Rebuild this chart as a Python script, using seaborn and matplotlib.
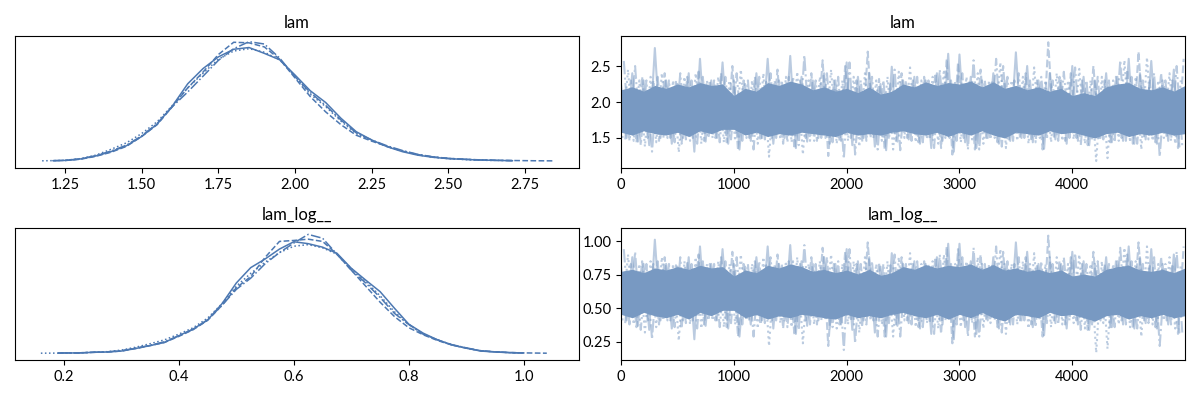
import numpy as np
import matplotlib
matplotlib.use("Agg")
import matplotlib.pyplot as plt
import seaborn as sns

nan = float("nan")

titles = ["lam", "lam_log__"]
chain_styles = ["-", "--", ":", "-."]
chain_offsets = [0, 37, 12, 25]

# posterior density of lam
lam_grid = [1.175, 1.21, 1.25, 1.30, 1.35, 1.40, 1.45, 1.50, 1.55, 1.60, 1.65, 1.70, 1.75, 1.80, 1.85, 1.90, 1.95,
            2.00, 2.05, 2.10, 2.15, 2.20, 2.25, 2.30, 2.35, 2.40, 2.45, 2.50, 2.55, 2.60, 2.65, 2.71, 2.78, 2.845]
lam_kde_0 = [nan, .005, .01, .035, .085, .16, .26, .42, .63, .94, 1.32, 1.58, 1.78, 1.91, 1.94, 1.84, 1.73,
             1.47, 1.20, 1.00, .73, .50, .36, .245, .16, .10, .063, .04, .028, .017, .011, .005, nan, nan]
lam_kde_1 = [nan, nan, .008, .03, .08, .15, .25, .42, .62, .93, 1.25, 1.52, 1.82, 2.03, 2.02, 1.95, 1.74,
             1.42, 1.10, .84, .62, .44, .34, .25, .17, .11, .07, .045, .03, .02, .012, .008, .004, .002]
lam_kde_2 = [.003, .006, .012, .04, .1, .2, .31, .47, .67, .95, 1.25, 1.5, 1.74, 1.88, 1.92, 1.86, 1.73,
             1.45, 1.14, .93, .68, .47, .35, .25, .17, .105, .065, .04, .025, .015, .008, nan, nan, nan]
lam_kde_3 = [nan, .005, .01, .035, .09, .17, .27, .43, .64, .93, 1.18, 1.45, 1.72, 1.92, 2.04, 2.0, 1.76,
             1.44, 1.17, .95, .7, .48, .36, .26, .18, .115, .07, .045, .03, .018, .011, .005, nan, nan]

# same for the log transformed variable
log_grid = [.16, .19, .2, .225, .25, .275, .3, .325, .35, .375, .4, .425, .45, .475, .5, .525, .55, .575,
            .6, .625, .65, .675, .7, .725, .75, .775, .8, .825, .85, .875, .9, .925, .95, .975, 1.0, 1.04]
log_kde_0 = [nan, .005, .01, .01, .03, .04, .07, .15, .24, .34, .55, .76, 1.04, 1.55, 2.2, 2.68, 2.95, 3.26,
             3.49, 3.43, 3.32, 3.13, 2.66, 2.29, 1.93, 1.41, .91, .63, .42, .26, .16, .07, .04, .02, .01, nan]
log_kde_1 = [nan, .005, .01, .01, .03, .04, .07, .15, .24, .34, .53, .74, 1.03, 1.5, 2.05, 2.4, 3.0, 3.5,
             3.53, 3.57, 3.5, 3.1, 2.6, 2.1, 1.6, 1.15, .8, .58, .4, .26, .16, .08, .045, .025, .012, .003]
log_kde_2 = [.003, .006, .01, .015, .03, .05, .1, .19, .3, .42, .6, .8, 1.1, 1.55, 2.1, 2.5, 2.85, 3.15,
             3.35, 3.4, 3.3, 3.1, 2.65, 2.25, 1.8, 1.3, .9, .6, .42, .26, .16, .08, .045, .02, .01, nan]
log_kde_3 = [nan, .004, .01, .012, .03, .045, .08, .16, .25, .36, .55, .75, 1.05, 1.5, 2.0, 2.35, 2.8, 3.15,
             3.45, 3.72, 3.6, 3.1, 2.6, 2.2, 1.75, 1.25, .9, .6, .42, .27, .17, .08, .045, .022, .01, nan]

# trace extremes, one value every 50 draws per chain
lam_trace_0 = [2.25, 1.5, 2.4, 1.45, 2.3, 1.4, 2.75, 1.5, 2.3, 1.42, 2.25, 1.5, 2.4, 1.31, 2.6, 1.45, 2.3, 1.5, 2.55, 1.42,
               2.3, 1.34, 2.25, 1.46, 2.4, 1.5, 2.6, 1.42, 2.3, 1.5, 2.64, 1.36, 2.35, 1.45, 2.3, 1.5, 2.4, 1.42, 2.3, 1.46,
               2.55, 1.4, 2.35, 1.5, 2.4, 1.38, 2.25, 1.33, 2.49, 1.45, 2.3, 1.48, 2.35, 1.42, 2.3, 1.36, 2.4, 1.46, 2.67, 1.31,
               2.66, 1.44, 2.35, 1.36, 2.3, 1.5, 2.4, 1.42, 2.3, 1.46, 2.69, 1.5, 2.5, 1.44, 2.3, 1.35, 2.4, 1.48, 2.3, 1.42,
               2.5, 1.46, 2.35, 1.4, 2.3, 1.5, 2.4, 1.44, 2.35, 1.46, 2.6, 1.42, 2.4, 1.48, 2.57, 1.42, 2.3, 1.46, 2.45, 1.38]
lam_trace_1 = [1.48, 2.3, 1.44, 2.35, 1.5, 2.3, 1.46, 2.4, 1.5, 2.28, 1.42, 2.35, 1.5, 2.45, 1.46, 2.3, 1.5, 2.4, 1.44, 2.5,
               1.33, 2.3, 1.5, 2.35, 1.46, 2.28, 1.5, 2.45, 1.42, 2.35, 1.35, 2.3, 1.5, 2.4, 1.46, 2.58, 1.25, 2.3, 1.46, 2.5,
               1.5, 2.3, 1.44, 2.7, 1.5, 2.32, 1.34, 2.28, 1.46, 2.4, 1.5, 2.3, 1.44, 2.35, 1.48, 2.4, 1.36, 2.6, 1.27, 2.55,
               1.5, 2.3, 1.34, 2.45, 1.5, 2.3, 1.44, 2.5, 1.48, 2.3, 1.5, 2.4, 1.46, 2.3, 1.34, 2.83, 1.5, 2.35, 1.46, 2.4,
               1.5, 2.3, 1.4, 2.5, 1.5, 2.3, 1.44, 2.35, 1.5, 2.45, 1.42, 2.7, 1.5, 2.3, 1.44, 2.4, 1.5, 2.3, 1.36, 2.6]
lam_trace_2 = [1.5, 2.45, 1.46, 2.3, 1.38, 2.35, 1.44, 2.4, 1.5, 2.3, 1.3, 2.35, 1.46, 2.4, 1.42, 2.3, 1.5, 2.35, 1.44, 2.3,
               1.46, 2.45, 1.5, 2.3, 1.42, 2.4, 1.24, 2.3, 1.48, 2.35, 1.44, 2.42, 1.27, 2.3, 1.46, 2.35, 1.5, 2.45, 1.42, 2.3,
               1.46, 2.35, 1.38, 2.4, 1.5, 2.3, 1.46, 2.35, 1.34, 2.42, 1.5, 2.48, 1.44, 2.3, 1.48, 2.35, 1.42, 2.45, 1.5, 2.3,
               1.44, 2.35, 1.48, 2.4, 1.42, 2.3, 1.5, 2.55, 1.36, 2.3, 1.46, 2.35, 1.42, 2.48, 1.5, 2.3, 1.44, 2.4, 1.46, 2.3,
               1.48, 2.46, 1.42, 2.3, 1.18, 2.35, 1.22, 2.3, 1.46, 2.58, 1.44, 2.35, 1.34, 2.62, 1.46, 2.3, 1.5, 2.4, 1.42, 2.3]
lam_trace_3 = [2.57, 1.46, 2.5, 1.4, 2.3, 1.31, 2.35, 1.5, 2.3, 1.44, 2.4, 1.48, 2.3, 1.42, 2.35, 1.5, 2.3, 1.44, 2.35, 1.48,
               2.4, 1.46, 2.3, 1.34, 2.35, 1.48, 2.4, 1.5, 2.3, 1.44, 2.35, 1.4, 2.65, 1.46, 2.3, 1.5, 2.4, 1.44, 2.35, 1.21,
               2.55, 1.27, 2.3, 1.46, 2.35, 1.34, 2.3, 1.48, 2.45, 1.33, 2.3, 1.46, 2.35, 1.44, 2.3, 1.36, 2.45, 1.5, 2.3, 1.46,
               2.4, 1.34, 2.58, 1.34, 2.3, 1.48, 2.6, 1.38, 2.35, 1.46, 2.4, 1.5, 2.3, 1.44, 2.35, 1.48, 2.3, 1.46, 2.42, 1.5,
               2.48, 1.4, 2.3, 1.46, 2.35, 1.48, 2.3, 1.44, 2.58, 1.46, 2.35, 1.42, 2.3, 1.48, 2.4, 1.24, 2.3, 1.46, 2.5, 1.38]

log_trace_0 = [.81, .41, .88, .37, .83, .34, 1.01, .41, .83, .35, .81, .41, .88, .27, .96, .37, .83, .41, .94, .35,
               .83, .29, .81, .38, .88, .41, .96, .35, .83, .41, .97, .31, .85, .37, .83, .41, .88, .35, .83, .38,
               .94, .34, .85, .41, .88, .32, .81, .29, .91, .37, .83, .39, .85, .35, .83, .31, .88, .38, .98, .27,
               .98, .36, .85, .31, .83, .41, .88, .35, .83, .38, .99, .41, .92, .36, .83, .30, .88, .39, .83, .35,
               .92, .38, .85, .34, .83, .41, .88, .36, .85, .38, .96, .35, .88, .39, .94, .35, .83, .38, .90, .32]
log_trace_1 = [.39, .83, .36, .85, .41, .83, .38, .88, .41, .82, .35, .85, .41, .90, .38, .83, .41, .88, .36, .92,
               .29, .83, .41, .85, .38, .82, .41, .90, .35, .85, .30, .83, .41, .88, .38, .95, .22, .83, .38, .92,
               .41, .83, .36, .99, .41, .84, .29, .82, .38, .88, .41, .83, .36, .85, .39, .88, .31, .96, .24, .94,
               .41, .83, .29, .90, .41, .83, .36, .92, .39, .83, .41, .88, .38, .83, .29, 1.04, .41, .85, .38, .88,
               .41, .83, .34, .92, .41, .83, .36, .85, .41, .90, .35, .99, .41, .83, .36, .88, .41, .83, .31, .96]
log_trace_2 = [.41, .90, .38, .83, .32, .85, .36, .88, .41, .83, .26, .85, .38, .88, .35, .83, .41, .85, .36, .83,
               .38, .90, .41, .83, .35, .88, .22, .83, .39, .85, .36, .88, .24, .83, .38, .85, .41, .90, .35, .83,
               .38, .85, .32, .88, .41, .83, .38, .85, .29, .88, .41, .91, .36, .83, .39, .85, .35, .90, .41, .83,
               .36, .85, .39, .88, .35, .83, .41, .94, .31, .83, .38, .85, .35, .91, .41, .83, .36, .88, .38, .83,
               .39, .90, .35, .83, .17, .85, .20, .83, .38, .95, .36, .85, .29, .96, .38, .83, .41, .88, .35, .83]
log_trace_3 = [.94, .38, .92, .34, .83, .27, .85, .41, .83, .36, .88, .39, .83, .35, .85, .41, .83, .36, .85, .39,
               .88, .38, .83, .29, .85, .39, .88, .41, .83, .36, .85, .34, .97, .38, .83, .41, .88, .36, .85, .19,
               .94, .24, .83, .38, .85, .29, .83, .39, .90, .29, .83, .38, .85, .36, .83, .31, .90, .41, .83, .38,
               .88, .29, .95, .29, .83, .39, .96, .32, .85, .38, .88, .41, .83, .36, .85, .39, .83, .38, .88, .41,
               .91, .34, .83, .38, .85, .39, .83, .36, .95, .38, .85, .35, .83, .39, .88, .22, .83, .38, .92, .32]

# edges of the solid part of the traces, one value every 100 draws
core_draws = list(range(0, 5001, 100))
lam_core_hi = [2.17, 2.21, 2.15, 2.23, 2.19, 2.25, 2.21, 2.27, 2.23, 2.25, 2.09, 2.19, 2.15, 2.27, 2.23, 2.29, 2.25,
               2.17, 2.21, 2.15, 2.19, 2.13, 2.21, 2.11, 2.15, 2.25, 2.21, 2.28, 2.23, 2.27, 2.25, 2.29, 2.21, 2.28,
               2.19, 2.23, 2.17, 2.21, 2.15, 2.19, 2.09, 2.13, 2.09, 2.21, 2.25, 2.27, 2.19, 2.17, 2.21, 2.15, 2.23]
lam_core_lo = [1.58, 1.54, 1.6, 1.56, 1.54, 1.58, 1.52, 1.6, 1.56, 1.62, 1.62, 1.54, 1.58, 1.52, 1.56, 1.54, 1.58,
               1.56, 1.54, 1.52, 1.58, 1.54, 1.56, 1.54, 1.58, 1.6, 1.56, 1.54, 1.58, 1.52, 1.58, 1.54, 1.6, 1.54,
               1.5, 1.58, 1.56, 1.54, 1.6, 1.56, 1.58, 1.54, 1.5, 1.56, 1.58, 1.52, 1.56, 1.54, 1.58, 1.54, 1.56]
log_core_hi = [.775, .79, .765, .80, .785, .81, .79, .82, .80, .81, .74, .785, .765, .82, .80, .83, .81,
               .775, .79, .765, .785, .755, .79, .745, .765, .81, .79, .825, .80, .82, .81, .83, .79, .825,
               .785, .80, .775, .79, .765, .785, .74, .755, .74, .79, .81, .82, .785, .775, .79, .765, .80]
log_core_lo = [.455, .43, .47, .445, .43, .455, .42, .47, .445, .485, .485, .43, .455, .42, .445, .43, .455,
               .445, .43, .42, .455, .43, .445, .43, .455, .47, .445, .43, .455, .42, .455, .43, .47, .43,
               .405, .455, .445, .43, .47, .445, .455, .43, .405, .445, .455, .42, .445, .43, .455, .43, .445]

lam_ticks = [1.25, 1.50, 1.75, 2.00, 2.25, 2.50, 2.75]
log_ticks = [0.2, 0.4, 0.6, 0.8, 1.0]
draw_ticks = [0, 1000, 2000, 3000, 4000]
lam_trace_ticks = [1.5, 2.0, 2.5]
log_trace_ticks = [0.25, 0.50, 0.75, 1.00]

COLOR = "#4C78B2"
TRACE_COLOR = "#7899C2"

sns.set_style("ticks", rc={"axes.edgecolor": "black", "xtick.color": "black", "ytick.color": "black",
                           "text.color": "black"})
plt.rcParams["font.family"] = ["Lato", "DejaVu Sans"]

fig, axes = plt.subplots(2, 2, figsize=(12, 4))
fig.subplots_adjust(left=.0125, right=.9875, top=.91, bottom=.10, wspace=.0745, hspace=.4545)

kde_rows = [
    (lam_grid, [lam_kde_0, lam_kde_1, lam_kde_2, lam_kde_3]),
    (log_grid, [log_kde_0, log_kde_1, log_kde_2, log_kde_3]),
]
trace_rows = [
    ([lam_trace_0, lam_trace_1, lam_trace_2, lam_trace_3], lam_core_lo, lam_core_hi),
    ([log_trace_0, log_trace_1, log_trace_2, log_trace_3], log_core_lo, log_core_hi),
]

for row, (grid, curves) in enumerate(kde_rows):
    for curve, ls in zip(curves, chain_styles):
        sns.lineplot(x=grid, y=curve, color=COLOR, linewidth=1.1, linestyle=ls, errorbar=None, ax=axes[row, 0])
    axes[row, 0].set_yticks([])

for row, (chains, core_lo, core_hi) in enumerate(trace_rows):
    ax = axes[row, 1]
    ax.fill_between(core_draws, core_lo, core_hi, color=TRACE_COLOR, linewidth=0, zorder=1)
    for values, ls, off in zip(chains, chain_styles, chain_offsets):
        draws = np.arange(len(values)) * 50 + off
        sns.lineplot(x=draws, y=values, color=TRACE_COLOR, linewidth=1.5, linestyle=ls, alpha=.5,
                     estimator=None, ax=ax, zorder=2)
    ax.set_xlim(0, 4999)
    ax.set_xticks(draw_ticks)

axes[0, 0].set_xlim(1.0865, 2.9265)
axes[0, 0].set_ylim(-.12, 2.137)
axes[0, 0].set_xticks(lam_ticks, [f"{t:.2f}" for t in lam_ticks])
axes[1, 0].set_xlim(.115, 1.096)
axes[1, 0].set_ylim(-.21, 3.92)
axes[1, 0].set_xticks(log_ticks, [f"{t:.1f}" for t in log_ticks])

axes[0, 1].set_ylim(1.083, 2.917)
axes[0, 1].set_yticks(lam_trace_ticks, [f"{t:.1f}" for t in lam_trace_ticks])
axes[1, 1].set_ylim(.116, 1.097)
axes[1, 1].set_yticks(log_trace_ticks, [f"{t:.2f}" for t in log_trace_ticks])

for row in range(2):
    for col in range(2):
        ax = axes[row, col]
        ax.set_title(titles[row], fontsize=12)
        ax.tick_params(labelsize=10.5)
        ax.set_xlabel("")
        ax.set_ylabel("")

plt.savefig("out.png", dpi=100)
plt.close()
